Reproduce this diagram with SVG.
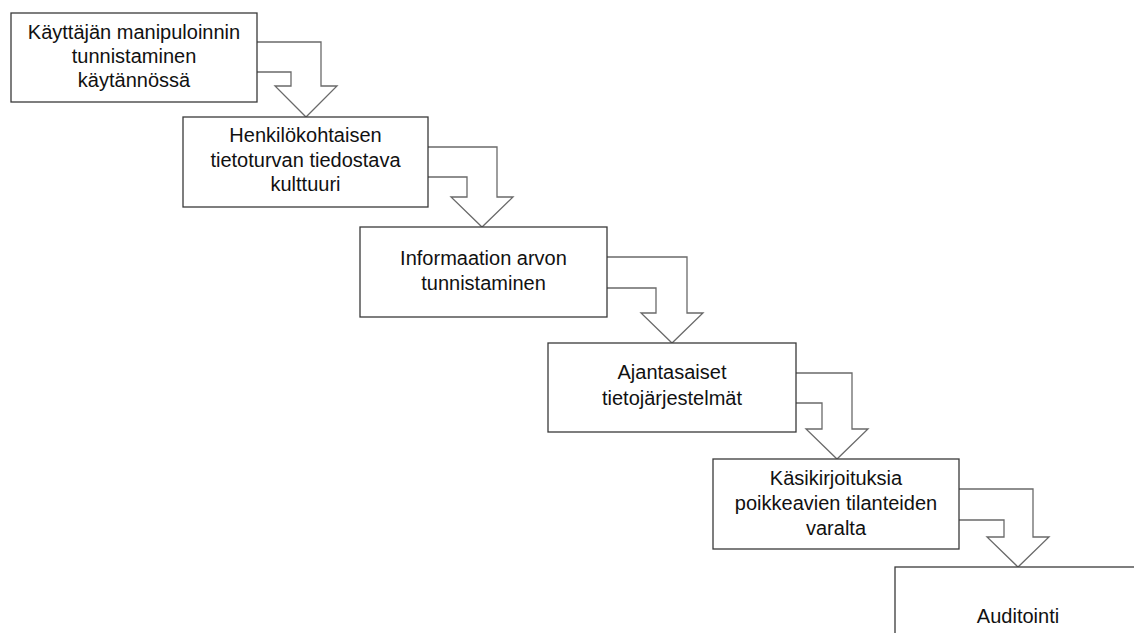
<svg xmlns="http://www.w3.org/2000/svg" width="1134" height="633" viewBox="0 0 1134 633">
<style>
.box{fill:#fff;stroke:#3a3a3a;stroke-width:1.3}
.arr{fill:#fff;stroke:#6a6a6a;stroke-width:1.3;stroke-linejoin:miter}
.t{font-family:"Liberation Sans",Arial,sans-serif;font-size:20px;fill:#111;text-anchor:middle}
</style>
<rect width="1134" height="633" fill="#fff"/>
<g id="connectors">
<path class="arr" d="M257,42 H321 V86 H337 L306,117 L275,86 H291 V72 H257"/>
<path class="arr" d="M428,147 H497 V197 H513 L482,227 L451,197 H467 V177 H428"/>
<path class="arr" d="M607,257 H687 V313 H703 L672,343 L641,313 H656 V288 H607"/>
<path class="arr" d="M796,373 H852 V429 H868 L837,459 L806,429 H822 V403 H796"/>
<path class="arr" d="M959,489 H1033 V537 H1049 L1018,567 L987,537 H1004 V520 H959"/>
</g>
<g id="n1"><rect class="box" x="11" y="13" width="246" height="89"/>
<text class="t" x="134" y="39">Käyttäjän manipuloinnin</text><text class="t" x="134" y="63">tunnistaminen</text><text class="t" x="134" y="87">käytännössä</text></g>
<g id="n2"><rect class="box" x="183" y="117" width="245" height="90"/>
<text class="t" x="305.5" y="142">Henkilökohtaisen</text><text class="t" x="305.5" y="167">tietoturvan tiedostava</text><text class="t" x="305.5" y="191">kulttuuri</text></g>
<g id="n3"><rect class="box" x="360" y="227" width="247" height="90"/>
<text class="t" x="483.5" y="265">Informaation arvon</text><text class="t" x="483.5" y="290">tunnistaminen</text></g>
<g id="n4"><rect class="box" x="548" y="343" width="248" height="89"/>
<text class="t" x="672" y="379">Ajantasaiset</text><text class="t" x="672" y="405">tietojärjestelmät</text></g>
<g id="n5"><rect class="box" x="713" y="459" width="246" height="90"/>
<text class="t" x="836" y="485">Käsikirjoituksia</text><text class="t" x="836" y="510">poikkeavien tilanteiden</text><text class="t" x="836" y="535">varalta</text></g>
<g id="n6"><rect class="box" x="895" y="567" width="260" height="90"/>
<text class="t" x="1018" y="623">Auditointi</text></g>
</svg>
